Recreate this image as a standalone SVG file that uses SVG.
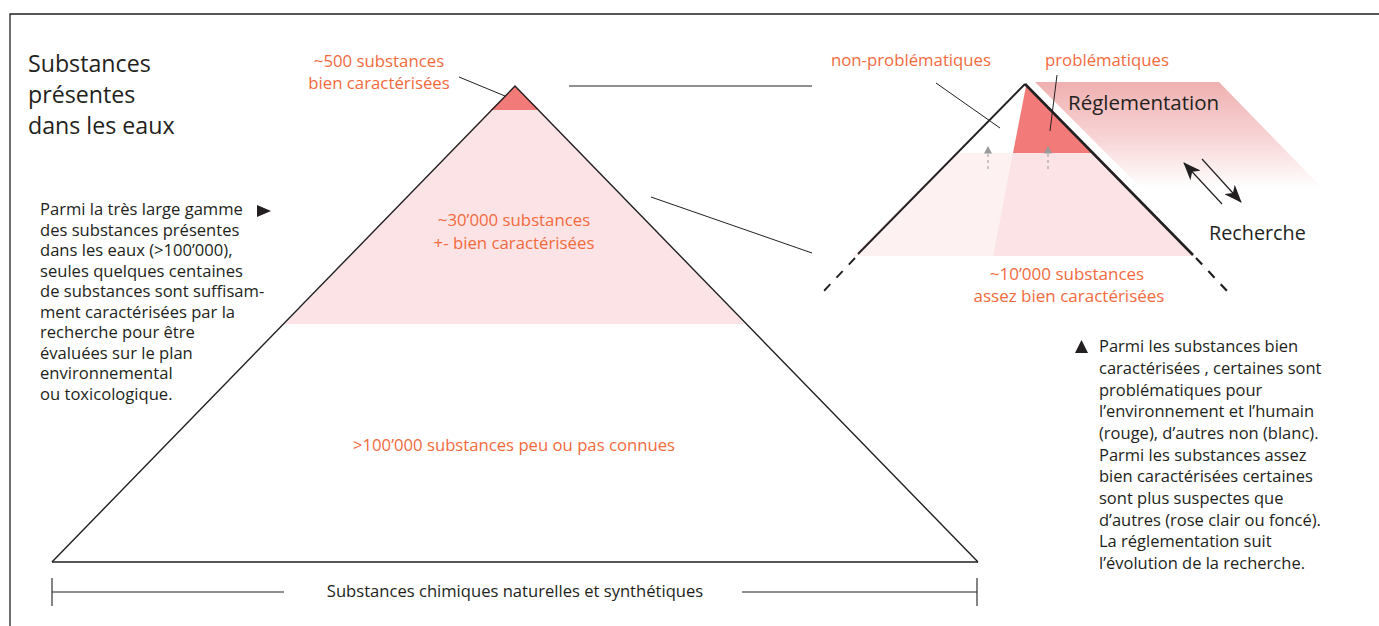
<svg xmlns="http://www.w3.org/2000/svg" width="1379" height="626" viewBox="0 0 1379 626">
<style>
.t{font-family:"Open Sans","Liberation Sans",sans-serif;fill:#231f20}
.o{font-family:"Open Sans","Liberation Sans",sans-serif;fill:#f26a3d}
.ln{stroke:#231f20;fill:none}
</style>
<defs>
<linearGradient id="reg" x1="0" y1="0" x2="0" y2="1">
<stop offset="0" stop-color="#efb0b0"/>
<stop offset="0.55" stop-color="#f8d6d7"/>
<stop offset="1" stop-color="#ffffff"/>
</linearGradient>
<marker id="ah" viewBox="0 0 18 14" refX="17" refY="7" markerWidth="18" markerHeight="14" markerUnits="userSpaceOnUse" orient="auto">
<path d="M0,0 L18,7 L0,14 L5,7 z" fill="#231f20"/>
</marker>
</defs>
<rect width="1379" height="626" fill="#fff"/>
<g id="frame" class="ln" stroke-width="1.3">
<path d="M10,626 V14 H1379"/>
</g>
<g id="title">
<text class="t" font-size="23.2"><tspan x="28" y="72">Substances</tspan><tspan x="28" y="103">présentes</tspan><tspan x="28" y="134">dans les eaux</tspan></text>
</g>
<g id="left-pyramid">
<polygon points="515,86 490.5,110 539.5,110" fill="#f27a78"/>
<polygon points="490.5,110 539.5,110 745,324 285,324" fill="#fce4e6"/>
<polyline class="ln" stroke-width="1.4" points="52,562 515,86 978,562"/>
<line class="ln" x1="52" y1="562" x2="978" y2="562" stroke-width="1.7" stroke="#333"/>
<text class="o" font-size="16.8" text-anchor="middle"><tspan x="379" y="67">~500 substances</tspan><tspan x="379" y="89">bien caractérisées</tspan></text>
<text class="o" font-size="16.8" text-anchor="middle"><tspan x="514" y="226">~30’000 substances</tspan><tspan x="514" y="249">+- bien caractérisées</tspan></text>
<text class="o" font-size="16.7" text-anchor="middle" x="514" y="451">&gt;100’000 substances peu ou pas connues</text>
</g>
<g id="dimension">
<path class="ln" stroke-width="1.1" d="M52,578 V606 M977,578 V606 M52,592 H284 M742,592 H977"/>
<text class="t" font-size="16.6" text-anchor="middle" x="515" y="597">Substances chimiques naturelles et synthétiques</text>
</g>
<g id="left-note">
<polygon points="257,205 271,211 257,217" fill="#231f20"/>
<text class="t" font-size="16.6"><tspan x="40" y="215">Parmi la très large gamme</tspan><tspan x="40" y="235.5">des substances présentes</tspan><tspan x="40" y="256">dans les eaux (&gt;100’000),</tspan><tspan x="40" y="276.5">seules quelques centaines</tspan><tspan x="40" y="297">de substances sont suffisam-</tspan><tspan x="40" y="317.5">ment caractérisées par la</tspan><tspan x="40" y="338">recherche pour être</tspan><tspan x="40" y="358.5">évaluées sur le plan</tspan><tspan x="40" y="379">environnemental</tspan><tspan x="40" y="399.5">ou toxicologique.</tspan></text>
</g>
<g id="reglementation">
<polygon points="1035,82 1219,82 1322,188 1141,188" fill="url(#reg)"/>
<text class="t" font-size="20.5" x="1068" y="110">Réglementation</text>
</g>
<g id="right-pyramid">
<polygon points="956,153 1093,153 1194,256 853,256" fill="#fce4e6"/>
<polygon points="956,153 1013,153 993,256 853,256" fill="#fdf1f2"/>
<polygon points="1026,86 1093,153 1013,153" fill="#f27a78"/>
<g stroke="#999" fill="#999">
<line x1="988" y1="169" x2="988" y2="153" stroke-width="1" stroke-dasharray="3,3"/>
<polygon points="984,153.5 992,153.5 988,146" stroke="none"/>
<line x1="1048" y1="169" x2="1048" y2="153" stroke-width="1" stroke-dasharray="3,3"/>
<polygon points="1044,153.5 1052,153.5 1048,146" stroke="none"/>
</g>
<polyline class="ln" stroke-width="1.9" points="858,254 1025,84"/>
<polyline class="ln" stroke-width="2.6" points="1025,84 1193,255"/>
<line class="ln" stroke-width="1.9" x1="855" y1="258" x2="822" y2="293" stroke-dasharray="9,9"/>
<line class="ln" stroke-width="2.2" x1="1196" y1="258" x2="1229" y2="293" stroke-dasharray="9,9"/>
<text class="o" font-size="17" text-anchor="middle"><tspan x="1067" y="280">~10’000 substances</tspan><tspan x="1069" y="302">assez bien caractérisées</tspan></text>
<text class="o" font-size="16.75" text-anchor="middle" x="911" y="66">non-problématiques</text>
<text class="o" font-size="16.75" text-anchor="middle" x="1107" y="66">problématiques</text>
<text class="t" font-size="19.8" x="1209" y="240">Recherche</text>
</g>
<g id="right-note">
<polygon points="1075,353 1081.5,340 1088,353" fill="#231f20"/>
<text class="t" font-size="16.5"><tspan x="1099" y="352">Parmi les substances bien</tspan><tspan x="1099" y="374">caractérisées , certaines sont</tspan><tspan x="1099" y="395.5">problématiques pour</tspan><tspan x="1099" y="417">l’environnement et l’humain</tspan><tspan x="1099" y="439">(rouge), d’autres non (blanc).</tspan><tspan x="1099" y="460.5">Parmi les substances assez</tspan><tspan x="1099" y="482">bien caractérisées certaines</tspan><tspan x="1099" y="504">sont plus suspectes que</tspan><tspan x="1099" y="525.5">d’autres (rose clair ou foncé).</tspan><tspan x="1099" y="547">La réglementation suit</tspan><tspan x="1099" y="569">l’évolution de la recherche.</tspan></text>
</g>
<g id="connectors" class="ln" stroke-width="1">
<line x1="459" y1="77" x2="505" y2="96"/>
<line x1="569" y1="86" x2="812" y2="86"/>
<line x1="651" y1="197" x2="812" y2="253"/>
<line x1="936" y1="83" x2="1000" y2="128"/>
<line x1="1057" y1="75" x2="1050" y2="131"/>
<line x1="1222" y1="204" x2="1184" y2="163" stroke-width="1.2" marker-end="url(#ah)"/>
<line x1="1202" y1="159" x2="1241" y2="202" stroke-width="1.2" marker-end="url(#ah)"/>
</g>
</svg>
